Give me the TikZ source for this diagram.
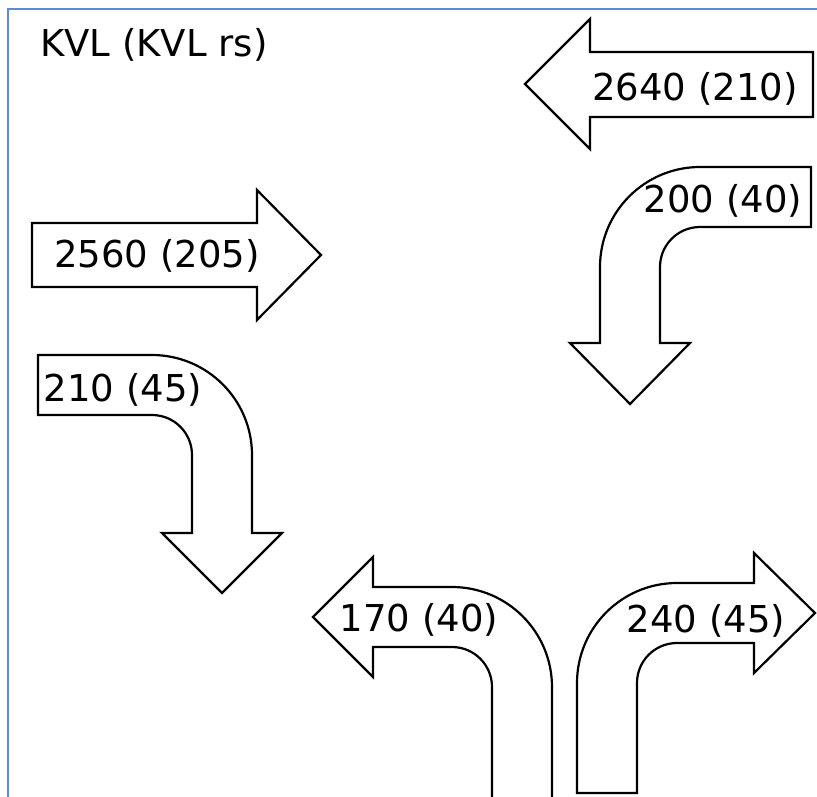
\documentclass[tikz,border=0pt]{standalone}
\usepackage{fontspec}
\setmainfont{DejaVu Sans}
\definecolor{frameblue}{RGB}{91,138,214}
\begin{document}
\begin{tikzpicture}[x=1pt,y=-1pt,
  arrowshape/.style={draw=black, line width=2.2pt, line join=miter, fill=white},
  lbl/.style={anchor=base, inner sep=0pt, font=\fontsize{37}{44}\selectfont},
  framestyle/.style={draw=frameblue, line width=2pt}]
\useasboundingbox (0,0) rectangle (817,796);
\clip (0,0) rectangle (817,796);
% frame
\coordinate (fbl) at (8,805);
\coordinate (ftl) at (8,9);
\coordinate (ftr) at (825,9);
\draw[framestyle] (fbl) -- (ftl) -- (ftr);
% title
\node[lbl] (title) at (154,56) {KVL (KVL rs)};
% 2640 (210) left arrow
\draw[arrowshape] (813,52) -- (590,52) -- (590,19) -- (525,84) -- (590,149) -- (590,117) -- (813,117) -- cycle;
\node[lbl] (a2640) at (695,100) {2640 (210)};
% 2560 (205) right arrow
\draw[arrowshape] (32,223) -- (257,223) -- (257,190) -- (321,255) -- (257,320) -- (257,287) -- (32,287) -- cycle;
\node[lbl] (a2560) at (157,267) {2560 (205)};
% 200 (40) right-to-down
\draw[arrowshape] (811,167) -- (700,167) .. controls (644.8,167) and (600,211.8) .. (600,267) -- (600,343) -- (570,343) -- (630,404) -- (690,343) -- (660,343) -- (660,267) .. controls (660,244.9) and (677.9,227) .. (700,227) -- (811,227) -- cycle;
\node[lbl] (a200) at (723,212) {200 (40)};
% 210 (45) left-to-down
\draw[arrowshape] (38,355) -- (152,355) .. controls (207.2,355) and (252,399.8) .. (252,455) -- (252,533) -- (282,533) -- (222,593) -- (162,533) -- (192,533) -- (192,455) .. controls (192,432.9) and (174.1,415) .. (152,415) -- (38,415) -- cycle;
\node[lbl] (a210) at (123,401) {210 (45)};
% 170 (40) up-to-left (open at bottom)
\draw[arrowshape] (552,805) -- (552,687) .. controls (552,631.8) and (507.2,587) .. (452,587) -- (373,587) -- (373,557) -- (313,617) -- (373,677) -- (373,647) -- (452,647) .. controls (474.1,647) and (492,664.9) .. (492,687) -- (492,805);
\node[lbl] (a170) at (419,631) {170 (40)};
% 240 (45) up-to-right
\draw[arrowshape] (577,793) -- (577,683) .. controls (577,627.8) and (621.8,583) .. (677,583) -- (754,583) -- (754,553) -- (815,613) -- (754,673) -- (754,643) -- (677,643) .. controls (654.9,643) and (637,660.9) .. (637,683) -- (637,793) -- cycle;
\node[lbl] (a240) at (706,632) {240 (45)};
\end{tikzpicture}
\end{document}
